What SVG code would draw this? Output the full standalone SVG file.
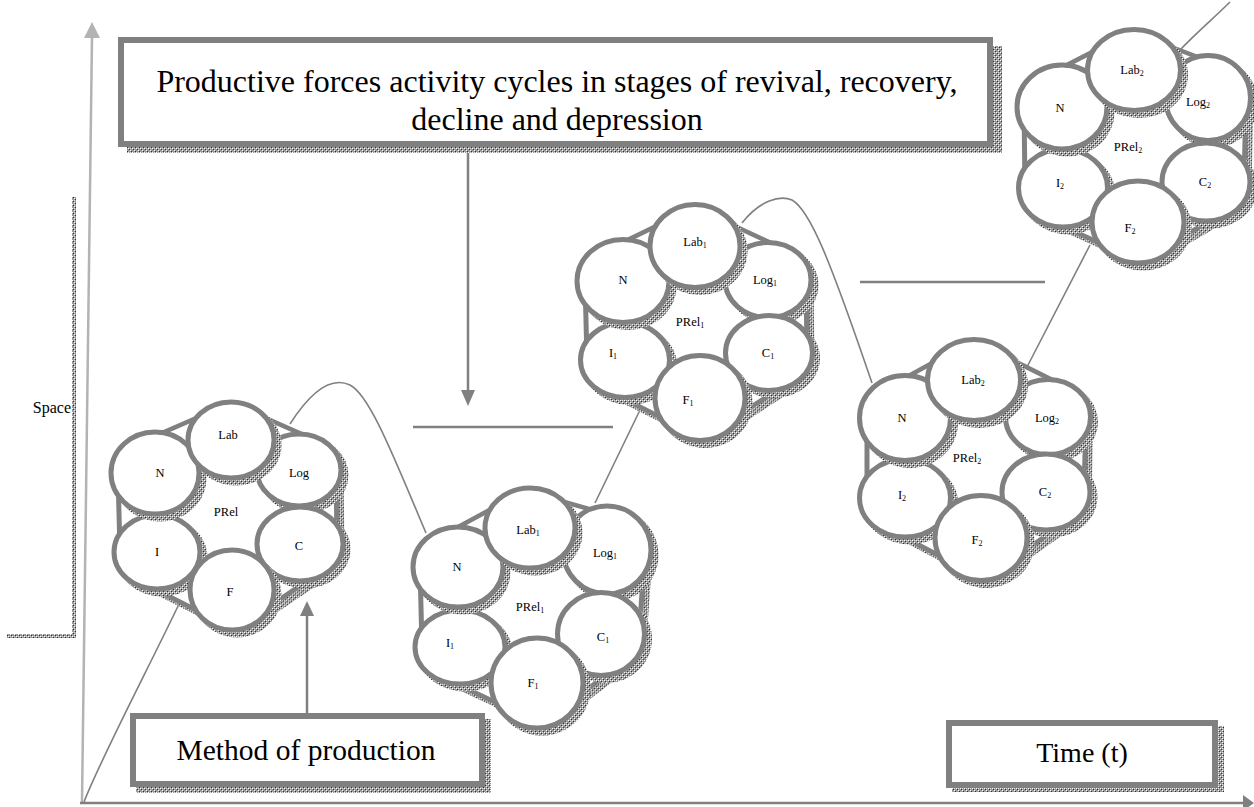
<svg xmlns="http://www.w3.org/2000/svg" width="1254" height="807" viewBox="0 0 1254 807">
<defs>
<pattern id="dots" width="4" height="4" patternUnits="userSpaceOnUse">
<rect width="4" height="4" fill="#9a9a9a"/>
<rect x="0" y="0" width="1" height="1" fill="#fff"/>
<rect x="2" y="2" width="1" height="1" fill="#fff"/>
<rect x="1" y="1" width="1" height="1" fill="#333"/>
<rect x="3" y="3" width="1" height="1" fill="#333"/>
<rect x="2" y="0" width="1" height="1" fill="#ddd"/>
</pattern>
<style>
.ring{fill:#fff;stroke:#808080;stroke-width:5}
.sh{fill:url(#dots)}
.box{fill:#fff;stroke:#808080;stroke-width:6}
.lbl{font-family:"Liberation Serif","Times New Roman",serif;font-size:12.5px;text-anchor:middle;fill:#000}
.sub{font-size:8px}
.big{font-family:"Liberation Serif","Times New Roman",serif;fill:#000}
.curve{fill:none;stroke:#808080;stroke-width:1.6}
.line{fill:none;stroke:#808080;stroke-width:2.5}
.head{fill:#808080}
.hs{fill:url(#dots);stroke:url(#dots);stroke-linejoin:round;stroke-width:81}
.ho{fill:#808080;stroke:#808080;stroke-linejoin:round;stroke-width:81}
.hi{fill:#fff;stroke:#fff;stroke-linejoin:round;stroke-width:71}
</style>
</defs>
<rect width="1254" height="807" fill="#fff"/>

<!-- Space bracket -->
<g id="space">
<path d="M74,197 V636 H7" fill="none" stroke="url(#dots)" stroke-width="4"/>
<text class="big" x="71" y="413" font-size="16" text-anchor="end">Space</text>
</g>

<!-- connectors -->
<g id="connectors">
<line x1="82" y1="802" x2="92" y2="36" stroke="#b3b3b3" stroke-width="2.5"/>
<polygon points="92,22 84,38 100,38" fill="#b3b3b3"/>
<line x1="80" y1="803" x2="1244" y2="803" class="line" stroke-width="2"/>
<polygon class="head" points="1254,803 1243,795 1243,811"/>
<path class="curve" d="M84,802 C100,760 150,665 180,602"/>
<path class="curve" d="M290,424 C315,385 335,378 350,385 C370,395 395,460 426,533"/>
<path class="curve" d="M595,503 L640,410"/>
<path class="curve" d="M742,223 C760,200 780,195 792,200 C810,210 830,260 872,383"/>
<path class="curve" d="M1027,367 L1090,245"/>
<path class="curve" d="M1180,50 C1197,32 1215,17 1230,2"/>
<line class="line" x1="413" y1="427" x2="613" y2="427"/>
<line class="line" x1="860" y1="282" x2="1045" y2="282"/>
<line class="line" x1="468" y1="150" x2="468" y2="392"/>
<polygon class="head" points="461,390 475,390 468,406"/>
<line class="line" x1="307" y1="713" x2="307" y2="614"/>
<polygon class="head" points="300,616 314,616 307,601"/>
</g>

<!-- title box -->
<g id="title">
<rect x="127" y="46" width="875" height="107" class="sh"/>
<rect x="121" y="40" width="869" height="104" class="box"/>
<text class="big" font-size="32" text-anchor="middle"><tspan x="557" y="92">Productive forces activity cycles in stages of revival, recovery,</tspan><tspan x="557" y="130">decline and depression</tspan></text>
</g>

<g id="method">
<rect x="136" y="719" width="355" height="74" class="sh"/>
<rect x="133" y="716" width="349" height="68" class="box"/>
<text class="big" x="306" y="760" font-size="29.5" text-anchor="middle">Method of production</text>
</g>

<g id="time">
<rect x="952" y="726" width="272" height="66" class="sh"/>
<rect x="949" y="723" width="266" height="62" class="box"/>
<text class="big" x="1082" y="762" font-size="28" text-anchor="middle">Time (t)</text>
</g>

<!-- cluster 1 -->
<g id="cluster1">
<g transform="translate(229,512) scale(1,0.9)">
<polygon class="hs" style="stroke-width:79" transform="translate(5,5.5)" points="2,-80 70,-46.7 71,35.6 3,86.7 -72,44.4 -74,-43.3"/>
<polygon class="ho" style="stroke-width:79" points="2,-80 70,-46.7 71,35.6 3,86.7 -72,44.4 -74,-43.3"/>
<polygon class="hi" style="stroke-width:69" points="2,-80 70,-46.7 71,35.6 3,86.7 -72,44.4 -74,-43.3"/>
</g>
<g id="c1-log"><ellipse class="sh" cx="304" cy="475" rx="44.5" ry="38.5"/><ellipse class="ring" cx="299" cy="470" rx="42" ry="36"/><text class="lbl" x="299" y="477">Log</text></g>
<g id="c1-c"><ellipse class="sh" cx="305" cy="549" rx="45.5" ry="39.5"/><ellipse class="ring" cx="300" cy="544" rx="43" ry="37"/><text class="lbl" x="299" y="550">C</text></g>
<g id="c1-i"><ellipse class="sh" cx="162" cy="557" rx="45.5" ry="39.5"/><ellipse class="ring" cx="157" cy="552" rx="43" ry="37"/><text class="lbl" x="157" y="556">I</text></g>
<g id="c1-n"><ellipse class="sh" cx="160" cy="478" rx="46.5" ry="43.5"/><ellipse class="ring" cx="155" cy="473" rx="44" ry="41"/><text class="lbl" x="160" y="477">N</text></g>
<g id="c1-lab"><ellipse class="sh" cx="236" cy="445" rx="45.5" ry="40.5"/><ellipse class="ring" cx="231" cy="440" rx="43" ry="38"/><text class="lbl" x="228" y="439">Lab</text></g>
<g id="c1-f"><ellipse class="sh" cx="237" cy="595" rx="44.5" ry="42.5"/><ellipse class="ring" cx="232" cy="590" rx="42" ry="40"/><text class="lbl" x="230" y="596">F</text></g>
<g id="c1-prel"><text class="lbl" x="226" y="516">PRel</text></g>
</g>

<!-- cluster 2 -->
<g id="cluster2">
<g transform="translate(532,603) scale(1,0.9)">
<polygon class="hs" transform="translate(5,5.5)" points="-2,-83.3 75,-58.9 69,34.4 5,88.9 -72,48.9 -74,-40"/>
<polygon class="ho" points="-2,-83.3 75,-58.9 69,34.4 5,88.9 -72,48.9 -74,-40"/>
<polygon class="hi" points="-2,-83.3 75,-58.9 69,34.4 5,88.9 -72,48.9 -74,-40"/>
</g>
<g id="c2-log"><ellipse class="sh" cx="612" cy="555" rx="46.5" ry="46.5"/><ellipse class="ring" cx="607" cy="550" rx="44" ry="44"/><text class="lbl" x="605" y="557">Log<tspan class="sub" dy="2">1</tspan></text></g>
<g id="c2-c"><ellipse class="sh" cx="606" cy="639" rx="46" ry="44"/><ellipse class="ring" cx="601" cy="634" rx="43.5" ry="41.5"/><text class="lbl" x="603" y="641">C<tspan class="sub" dy="2">1</tspan></text></g>
<g id="c2-i"><ellipse class="sh" cx="465" cy="652" rx="47.5" ry="39.5"/><ellipse class="ring" cx="460" cy="647" rx="45" ry="37"/><text class="lbl" x="450" y="647">I<tspan class="sub" dy="2">1</tspan></text></g>
<g id="c2-n"><ellipse class="sh" cx="463" cy="572" rx="47.5" ry="42.5"/><ellipse class="ring" cx="458" cy="567" rx="45" ry="40"/><text class="lbl" x="457" y="571">N</text></g>
<g id="c2-lab"><ellipse class="sh" cx="535" cy="533" rx="47.5" ry="42.5"/><ellipse class="ring" cx="530" cy="528" rx="45" ry="40"/><text class="lbl" x="528" y="534">Lab<tspan class="sub" dy="2">1</tspan></text></g>
<g id="c2-f"><ellipse class="sh" cx="542" cy="688" rx="48.5" ry="47.5"/><ellipse class="ring" cx="537" cy="683" rx="46" ry="45"/><text class="lbl" x="533" y="687">F<tspan class="sub" dy="2">1</tspan></text></g>
<g id="c2-prel"><text class="lbl" x="530" y="611">PRel<tspan class="sub" dy="2">1</tspan></text></g>
</g>

<!-- cluster 3 -->
<g id="cluster3">
<g transform="translate(697,320) scale(1,0.9)">
<polygon class="hs" transform="translate(5,5.5)" points="-2,-82.2 71,-44.4 72,36.7 3,86.7 -72,44.4 -74,-43.3"/>
<polygon class="ho" points="-2,-82.2 71,-44.4 72,36.7 3,86.7 -72,44.4 -74,-43.3"/>
<polygon class="hi" points="-2,-82.2 71,-44.4 72,36.7 3,86.7 -72,44.4 -74,-43.3"/>
</g>
<g id="c3-log"><ellipse class="sh" cx="773" cy="285" rx="45.5" ry="40"/><ellipse class="ring" cx="768" cy="280" rx="43" ry="37.5"/><text class="lbl" x="765" y="284">Log<tspan class="sub" dy="2">1</tspan></text></g>
<g id="c3-c"><ellipse class="sh" cx="774" cy="358" rx="46" ry="40"/><ellipse class="ring" cx="769" cy="353" rx="43.5" ry="37.5"/><text class="lbl" x="768" y="357">C<tspan class="sub" dy="2">1</tspan></text></g>
<g id="c3-i"><ellipse class="sh" cx="630" cy="365" rx="47" ry="40"/><ellipse class="ring" cx="625" cy="360" rx="44.5" ry="37.5"/><text class="lbl" x="613" y="357">I<tspan class="sub" dy="2">1</tspan></text></g>
<g id="c3-n"><ellipse class="sh" cx="628" cy="286" rx="48.5" ry="44"/><ellipse class="ring" cx="623" cy="281" rx="46" ry="41.5"/><text class="lbl" x="623" y="284">N</text></g>
<g id="c3-lab"><ellipse class="sh" cx="700" cy="251" rx="47.5" ry="44"/><ellipse class="ring" cx="695" cy="246" rx="45" ry="41.5"/><text class="lbl" x="695" y="246">Lab<tspan class="sub" dy="2">1</tspan></text></g>
<g id="c3-f"><ellipse class="sh" cx="705" cy="403" rx="47.5" ry="45"/><ellipse class="ring" cx="700" cy="398" rx="45" ry="42.5"/><text class="lbl" x="688" y="404">F<tspan class="sub" dy="2">1</tspan></text></g>
<g id="c3-prel"><text class="lbl" x="690" y="326">PRel<tspan class="sub" dy="2">1</tspan></text></g>
</g>

<!-- cluster 4 -->
<g id="cluster4">
<g transform="translate(977,458) scale(1,0.9)">
<polygon class="hs" transform="translate(5,5.5)" points="-3,-86.7 71,-45.6 69,37.8 4,88.9 -72,44.4 -72,-44.4"/>
<polygon class="ho" points="-3,-86.7 71,-45.6 69,37.8 4,88.9 -72,44.4 -72,-44.4"/>
<polygon class="hi" points="-3,-86.7 71,-45.6 69,37.8 4,88.9 -72,44.4 -72,-44.4"/>
</g>
<g id="c4-log"><ellipse class="sh" cx="1053" cy="422" rx="45" ry="40"/><ellipse class="ring" cx="1048" cy="417" rx="42.5" ry="37.5"/><text class="lbl" x="1047" y="422">Log<tspan class="sub" dy="2">2</tspan></text></g>
<g id="c4-c"><ellipse class="sh" cx="1051" cy="497" rx="46.5" ry="40.5"/><ellipse class="ring" cx="1046" cy="492" rx="44" ry="38"/><text class="lbl" x="1045" y="496">C<tspan class="sub" dy="2">2</tspan></text></g>
<g id="c4-i"><ellipse class="sh" cx="910" cy="503" rx="48" ry="41.5"/><ellipse class="ring" cx="905" cy="498" rx="45.5" ry="39"/><text class="lbl" x="902" y="499">I<tspan class="sub" dy="2">2</tspan></text></g>
<g id="c4-n"><ellipse class="sh" cx="910" cy="423" rx="48" ry="45"/><ellipse class="ring" cx="905" cy="418" rx="45.5" ry="42.5"/><text class="lbl" x="902" y="422">N</text></g>
<g id="c4-lab"><ellipse class="sh" cx="979" cy="385" rx="49" ry="43"/><ellipse class="ring" cx="974" cy="380" rx="46.5" ry="40.5"/><text class="lbl" x="973" y="384">Lab<tspan class="sub" dy="2">2</tspan></text></g>
<g id="c4-f"><ellipse class="sh" cx="986" cy="543" rx="48.5" ry="45"/><ellipse class="ring" cx="981" cy="538" rx="46" ry="42.5"/><text class="lbl" x="977" y="544">F<tspan class="sub" dy="2">2</tspan></text></g>
<g id="c4-prel"><text class="lbl" x="967" y="462">PRel<tspan class="sub" dy="2">2</tspan></text></g>
</g>

<!-- cluster 5 -->
<g id="cluster5">
<g transform="translate(1135,145) scale(1,0.9)">
<polygon class="hs" transform="translate(5,5.5)" points="-1,-83.3 73,-52.2 71,41.1 3,85.6 -72,47.8 -73,-42.2"/>
<polygon class="ho" points="-1,-83.3 73,-52.2 71,41.1 3,85.6 -72,47.8 -73,-42.2"/>
<polygon class="hi" points="-1,-83.3 73,-52.2 71,41.1 3,85.6 -72,47.8 -73,-42.2"/>
</g>
<g id="c5-log"><ellipse class="sh" cx="1213" cy="103" rx="45" ry="45"/><ellipse class="ring" cx="1208" cy="98" rx="42.5" ry="42.5"/><text class="lbl" x="1198" y="106">Log<tspan class="sub" dy="2">2</tspan></text></g>
<g id="c5-c"><ellipse class="sh" cx="1211" cy="187" rx="46.5" ry="41.5"/><ellipse class="ring" cx="1206" cy="182" rx="44" ry="39"/><text class="lbl" x="1205" y="186">C<tspan class="sub" dy="2">2</tspan></text></g>
<g id="c5-i"><ellipse class="sh" cx="1068" cy="193" rx="47" ry="41.5"/><ellipse class="ring" cx="1063" cy="188" rx="44.5" ry="39"/><text class="lbl" x="1060" y="187">I<tspan class="sub" dy="2">2</tspan></text></g>
<g id="c5-n"><ellipse class="sh" cx="1067" cy="112" rx="47.5" ry="44.5"/><ellipse class="ring" cx="1062" cy="107" rx="45" ry="42"/><text class="lbl" x="1060" y="112">N</text></g>
<g id="c5-lab"><ellipse class="sh" cx="1139" cy="75" rx="49" ry="43"/><ellipse class="ring" cx="1134" cy="70" rx="46.5" ry="40.5"/><text class="lbl" x="1132" y="74">Lab<tspan class="sub" dy="2">2</tspan></text></g>
<g id="c5-f"><ellipse class="sh" cx="1143" cy="227" rx="48.5" ry="43.5"/><ellipse class="ring" cx="1138" cy="222" rx="46" ry="41"/><text class="lbl" x="1130" y="232">F<tspan class="sub" dy="2">2</tspan></text></g>
<g id="c5-prel"><text class="lbl" x="1128" y="151">PRel<tspan class="sub" dy="2">2</tspan></text></g>
</g>
</svg>
